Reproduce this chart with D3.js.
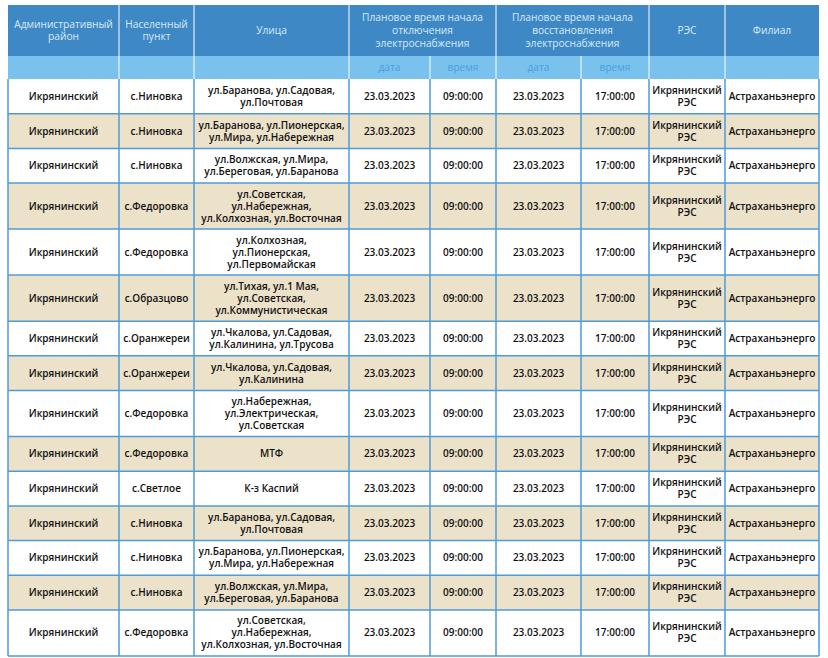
<!DOCTYPE html>
<html>
<head>
<meta charset="utf-8">
<script src="https://cdn.jsdelivr.net/npm/d3@7"></script>
<style>
  body { margin: 0; background: #fff; }
  svg text { font-family: "Open Sans", "Noto Sans", sans-serif; }
</style>
</head>
<body>
<svg id="chart" width="828" height="658"></svg>
<script>
// table content, one array per column
const districts = Array(15).fill('Икрянинский');
const settlements = ['с.Ниновка', 'с.Ниновка', 'с.Ниновка', 'с.Федоровка', 'с.Федоровка',
  'с.Образцово', 'с.Оранжереи', 'с.Оранжереи', 'с.Федоровка', 'с.Федоровка',
  'с.Светлое', 'с.Ниновка', 'с.Ниновка', 'с.Ниновка', 'с.Федоровка'];
const streets = [
  'ул.Баранова, ул.Садовая,|ул.Почтовая',
  'ул.Баранова, ул.Пионерская,|ул.Мира, ул.Набережная',
  'ул.Волжская, ул.Мира,|ул.Береговая, ул.Баранова',
  'ул.Советская,|ул.Набережная,|ул.Колхозная, ул.Восточная',
  'ул.Колхозная,|ул.Пионерская,|ул.Первомайская',
  'ул.Тихая, ул.1 Мая,|ул.Советская,|ул.Коммунистическая',
  'ул.Чкалова, ул.Садовая,|ул.Калинина, ул.Трусова',
  'ул.Чкалова, ул.Садовая,|ул.Калинина',
  'ул.Набережная,|ул.Электрическая,|ул.Советская',
  'МТФ',
  'К-з Каспий',
  'ул.Баранова, ул.Садовая,|ул.Почтовая',
  'ул.Баранова, ул.Пионерская,|ул.Мира, ул.Набережная',
  'ул.Волжская, ул.Мира,|ул.Береговая, ул.Баранова',
  'ул.Советская,|ул.Набережная,|ул.Колхозная, ул.Восточная'
];
const offDates = Array(15).fill('23.03.2023');
const offTimes = Array(15).fill('09:00:00');
const onDates = Array(15).fill('23.03.2023');
const onTimes = Array(15).fill('17:00:00');
const resNames = Array(15).fill('Икрянинский|РЭС');
const branches = Array(15).fill('Астраханьэнерго');

const headerTop = [
  { text: 'Административный|район', from: 0, to: 0 },
  { text: 'Населенный|пункт', from: 1, to: 1 },
  { text: 'Улица', from: 2, to: 2 },
  { text: 'Плановое время начала|отключения|электроснабжения', from: 3, to: 4 },
  { text: 'Плановое время начала|восстановления|электроснабжения', from: 5, to: 6 },
  { text: 'РЭС', from: 7, to: 7 },
  { text: 'Филиал', from: 8, to: 8 }
];
const headerSub = ['', '', '', 'дата', 'время', 'дата', 'время', '', ''];

// layout
const colWidths = [111, 75, 155, 81, 66, 85, 68, 76, 94];
const tLeft = 8, tTop = 5, headH = 51, subH = 23, tBottom = 656;

const columns = [districts, settlements, streets, offDates, offTimes, onDates, onTimes, resNames, branches];
const rows = districts.map((d, i) => columns.map(c => c[i].split('|')));

const edges = [tLeft, ...d3.cumsum(colWidths).map(w => tLeft + w)];
const x = d3.scaleOrdinal().domain(d3.range(edges.length)).range(edges);

// rows grow with their tallest cell
const pad = 1.06;
const units = rows.map(r => d3.max(r, c => c.length) + pad);
const cum = [0, ...d3.cumsum(units)];
const bodyTop = tTop + headH + subH;
const y = d3.scaleLinear().domain([0, cum[cum.length - 1]]).range([bodyTop, tBottom]);

const svg = d3.select('#chart');

// header
const hdr = svg.append('g');
hdr.append('rect').attr('x', tLeft).attr('y', tTop)
  .attr('width', x(9) - tLeft).attr('height', headH).attr('fill', '#3e88c6');
hdr.append('rect').attr('x', tLeft).attr('y', tTop + headH)
  .attr('width', x(9) - tLeft).attr('height', subH).attr('fill', '#79c2ee');

function lines(g, parts, cx, cy, lh) {
  const t = g.append('text').attr('text-anchor', 'middle');
  parts.forEach((p, k) => {
    t.append('tspan').attr('x', cx)
      .attr('y', cy + (k - (parts.length - 1) / 2) * lh)
      .attr('dy', '0.35em').text(p);
  });
  return t;
}

headerTop.forEach(h => {
  lines(hdr, h.text.split('|'), (x(h.from) + x(h.to + 1)) / 2, tTop + headH / 2, 12.7)
    .attr('font-size', 10.2).attr('fill', '#d9eaf6');
});
headerSub.forEach((s, j) => {
  lines(hdr, [s], (x(j) + x(j + 1)) / 2, tTop + headH + subH / 2, 12)
    .attr('font-size', 10.2).attr('fill', '#4b9fdc');
});

// white separators in header
hdr.selectAll('line.top').data(d3.range(1, 9).filter(j => j !== 4 && j !== 6))
  .join('line')
  .attr('x1', j => x(j)).attr('x2', j => x(j))
  .attr('y1', tTop).attr('y2', tTop + headH)
  .attr('stroke', '#fff').attr('stroke-width', 1);
hdr.selectAll('line.sub').data(d3.range(1, 9))
  .join('line')
  .attr('x1', j => x(j)).attr('x2', j => x(j))
  .attr('y1', tTop + headH).attr('y2', bodyTop)
  .attr('stroke', '#fff').attr('stroke-width', 1);

// body
const body = svg.append('g');
const row = body.selectAll('g.row').data(rows).join('g').attr('class', 'row');
row.append('rect')
  .attr('x', tLeft).attr('width', x(9) - tLeft)
  .attr('y', (d, i) => y(cum[i])).attr('height', (d, i) => y(cum[i + 1]) - y(cum[i]))
  .attr('fill', (d, i) => i % 2 ? '#ece1c9' : '#fff');

row.each(function(r, i) {
  const g = d3.select(this);
  const cy = (y(cum[i]) + y(cum[i + 1])) / 2;
  r.forEach((parts, j) => {
    lines(g, parts, (x(j) + x(j + 1)) / 2, cy, 12)
      .attr('font-size', 10).attr('font-weight', 600).attr('fill', '#111');
  });
});

// grid
const grid = svg.append('g').attr('stroke', '#4f9bd9').attr('stroke-width', 1.5);
grid.selectAll('line.h').data(d3.range(1, cum.length))
  .join('line')
  .attr('x1', tLeft).attr('x2', x(9))
  .attr('y1', k => y(cum[k])).attr('y2', k => y(cum[k]));
grid.selectAll('line.v').data(d3.range(0, 10))
  .join('line')
  .attr('x1', j => x(j)).attr('x2', j => x(j))
  .attr('y1', bodyTop).attr('y2', tBottom);
</script>
</body>
</html>
